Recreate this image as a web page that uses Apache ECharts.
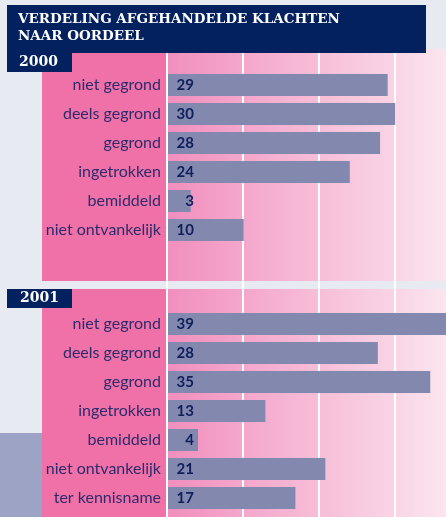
<!DOCTYPE html>
<html>
<head>
<meta charset="utf-8">
<script src="https://cdn.jsdelivr.net/npm/echarts@6/dist/echarts.min.js"></script>
<style>
  html, body { margin: 0; padding: 0; background: #e8eaf2; }
  #chart { width: 446px; height: 517px; }
</style>
</head>
<body>
<div id="chart"></div>
<script>
// data
const titleLines = ["VERDELING AFGEHANDELDE KLACHTEN", "NAAR OORDEEL"];
const years = ["2000", "2001"];
const categories2000 = ["niet gegrond", "deels gegrond", "gegrond", "ingetrokken", "bemiddeld", "niet ontvankelijk"];
const values2000 = [29, 30, 28, 24, 3, 10];
const categories2001 = ["niet gegrond", "deels gegrond", "gegrond", "ingetrokken", "bemiddeld", "niet ontvankelijk", "ter kennisname"];
const values2001 = [39, 28, 35, 13, 4, 21, 17];

const NAVY = "#03205f";
const PINK = "#f071a8";
const BAR = "#8388ae";
const LABEL = "#2c2c6c";
const VALUE = "#0e1f5b";

const chart = echarts.init(document.getElementById("chart"));

function bandFill() {
  return new echarts.graphic.LinearGradient(0, 0, 1, 0, [
    { offset: 0, color: "#f18ebd" },
    { offset: 0.27, color: "#f4a6cb" },
    { offset: 0.55, color: "#f7bed8" },
    { offset: 0.8, color: "#f9d3e5" },
    { offset: 1, color: "#fbe5ef" },
  ]);
}

// achtergrondvlakken per paneel
const panels = [
  { top: 49, height: 232 },
  { top: 289, height: 228 },
];
const bgShapes = [];
panels.forEach((p) => {
  bgShapes.push({
    type: "rect", z: -10, silent: true,
    shape: { x: 42, y: p.top, width: 124, height: p.height },
    style: { fill: PINK },
  });
  bgShapes.push({
    type: "rect", z: -10, silent: true,
    shape: { x: 166, y: p.top, width: 280, height: p.height },
    style: { fill: bandFill() },
  });
});

function valueBars(xIdx, data) {
  return {
    type: "bar",
    xAxisIndex: xIdx,
    yAxisIndex: xIdx,
    data: data,
    barWidth: 22,
    itemStyle: { color: BAR },
    label: {
      show: true,
      position: [26, "50%"],
      align: "right",
      verticalAlign: "middle",
      color: VALUE,
      fontFamily: "Lato",
      fontWeight: "bold",
      fontSize: 15,
    },
  };
}

function catAxis(gridIdx, cats) {
  return {
    type: "category",
    gridIndex: gridIdx,
    data: cats,
    inverse: true,
    axisLine: { show: false },
    axisTick: { show: false },
    axisLabel: { color: LABEL, fontFamily: "Lato", fontSize: 16, margin: 7 },
  };
}

function valAxis(gridIdx, max) {
  return {
    type: "value",
    gridIndex: gridIdx,
    min: 0,
    max: max,
    show: false,
    splitLine: { show: false },
  };
}

const option = {
  animation: false,
  backgroundColor: "#e8eaf2",
  grid: [
    { left: 167, top: 53, width: 303, bottom: 0, outerBoundsMode: "none" },
    { left: 168, top: 70.5, width: 278, height: 174, outerBoundsMode: "none" },
    { left: 168, top: 309.5, width: 278, height: 203, outerBoundsMode: "none" },
  ],
  xAxis: [
    {
      type: "value",
      gridIndex: 0,
      min: 0,
      max: 40,
      interval: 10,
      axisLine: { show: false },
      axisTick: { show: false },
      axisLabel: { show: false },
      splitLine: { show: true, lineStyle: { color: "#ffffff", width: 2 } },
    },
    valAxis(1, 36.7),
    valAxis(2, 37.1),
  ],
  yAxis: [
    { type: "value", gridIndex: 0, show: false, splitLine: { show: false } },
    catAxis(1, categories2000),
    catAxis(2, categories2001),
  ],
  graphic: [
    ...bgShapes,
    {
      type: "rect", z: -10, silent: true,
      shape: { x: 0, y: 433, width: 42, height: 84 },
      style: { fill: "#9ca3c4" },
    },
    {
      type: "rect", z: 10, silent: true,
      shape: { x: 7, y: 5, width: 419, height: 48 },
      style: { fill: NAVY },
    },
    {
      type: "rect", z: 10, silent: true,
      shape: { x: 7, y: 53, width: 65, height: 19 },
      style: { fill: NAVY },
    },
    {
      type: "rect", z: 10, silent: true,
      shape: { x: 7, y: 289, width: 65, height: 19 },
      style: { fill: NAVY },
    },
    {
      type: "text", z: 11, silent: true,
      left: 18, top: 12,
      style: { text: titleLines[0], fill: "#ffffff", font: "bold 13.5px 'DejaVu Serif'" },
    },
    {
      type: "text", z: 11, silent: true,
      left: 18, top: 29,
      style: { text: titleLines[1], fill: "#ffffff", font: "bold 13.5px 'DejaVu Serif'" },
    },
    {
      type: "text", z: 11, silent: true,
      left: 19, top: 55,
      style: { text: years[0], fill: "#ffffff", font: "bold 14px 'DejaVu Serif'" },
    },
    {
      type: "text", z: 11, silent: true,
      left: 20, top: 291,
      style: { text: years[1], fill: "#ffffff", font: "bold 14px 'DejaVu Serif'" },
    },
  ],
  series: [valueBars(1, values2000), valueBars(2, values2001)],
};

chart.setOption(option);
window.addEventListener("resize", function () {
  chart.resize();
});
</script>
</body>
</html>
